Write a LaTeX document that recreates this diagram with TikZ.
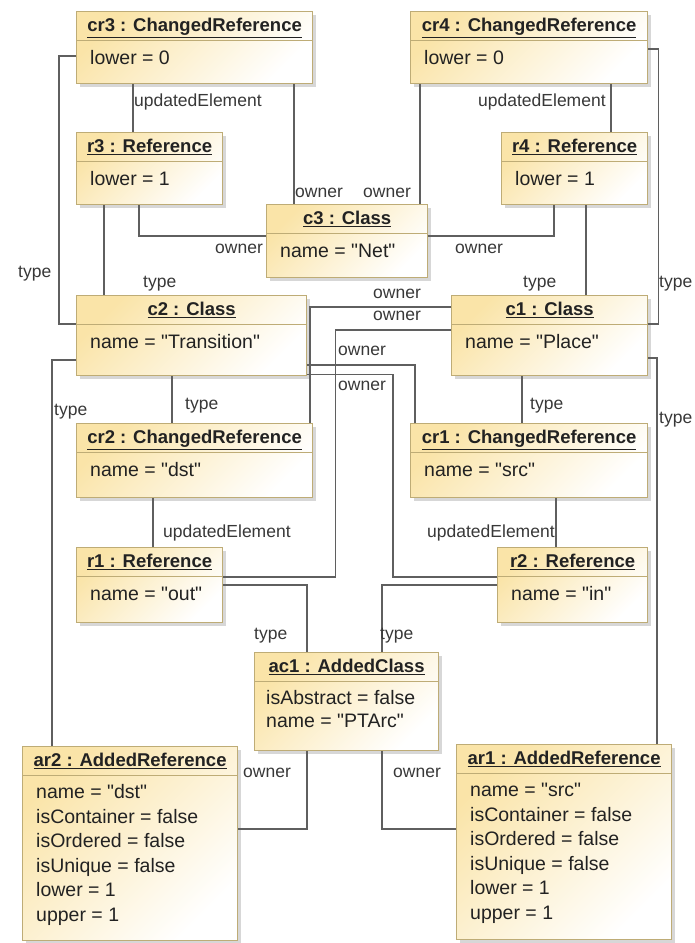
\documentclass[tikz,border=0pt]{standalone}
\usepackage{fontspec}
\setmainfont{Liberation Sans}[Ligatures=TeXOff]
\usetikzlibrary{shadows}

\newlength{\du}
\setlength{\du}{1pt}

\definecolor{objfill}{RGB}{250,228,168}
\definecolor{objborder}{RGB}{190,172,118}
\definecolor{linkcolor}{RGB}{95,95,95}
\definecolor{txtcolor}{RGB}{34,34,34}

\tikzset{
  objbox/.style={draw=objborder, line width=1.2\du, anchor=north west, inner sep=0pt,
    top color=objfill, bottom color=white, shading angle=45,
    drop shadow={shadow xshift=3\du, shadow yshift=-3\du, opacity=0.35, fill=black!45}},
  objline/.style={draw=objborder, line width=1\du},
  objtitle/.style={anchor=base, inner sep=0pt, text=txtcolor, font=\fontsize{18.5}{21}\selectfont\bfseries},
  objattr/.style={anchor=base west, inner sep=0pt, text=txtcolor, font=\fontsize{19.5}{22}\selectfont},
  link/.style={draw=linkcolor, line width=1.2\du},
  role/.style={anchor=base west, inner sep=0pt, text=txtcolor!90, font=\fontsize{17.5}{20}\selectfont}
}

\begin{document}
\begin{tikzpicture}
\useasboundingbox (0\du,0\du) rectangle (695\du,-943\du);
% objects
\node[objbox, minimum width=236\du, minimum height=72\du] (cr3) at (76\du,-11\du) {};
\draw[objline] ([yshift=-29.5\du]cr3.north west) -- ([yshift=-29.5\du]cr3.north east);
\node[objtitle] (cr3-t) at ([yshift=-20.5\du]cr3.north) {\underline{cr3 : ChangedReference}};
\node[objattr] (cr3-a) at ([shift={(14\du,-53\du)}]cr3.north west) {lower = 0};

\node[objbox, minimum width=146\du, minimum height=72\du] (r3) at (76\du,-132\du) {};
\draw[objline] ([yshift=-29.5\du]r3.north west) -- ([yshift=-29.5\du]r3.north east);
\node[objtitle] (r3-t) at ([yshift=-20.5\du]r3.north) {\underline{r3 : Reference}};
\node[objattr] (r3-a) at ([shift={(14\du,-53\du)}]r3.north west) {lower = 1};

\node[objbox, minimum width=161\du, minimum height=73\du] (c3) at (266\du,-204\du) {};
\draw[objline] ([yshift=-29.5\du]c3.north west) -- ([yshift=-29.5\du]c3.north east);
\node[objtitle] (c3-t) at ([yshift=-20.5\du]c3.north) {\underline{c3 : Class}};
\node[objattr] (c3-a) at ([shift={(14\du,-53\du)}]c3.north west) {name = "Net"};

\node[objbox, minimum width=237\du, minimum height=72\du] (cr4) at (410\du,-11\du) {};
\draw[objline] ([yshift=-29.5\du]cr4.north west) -- ([yshift=-29.5\du]cr4.north east);
\node[objtitle] (cr4-t) at ([yshift=-20.5\du]cr4.north) {\underline{cr4 : ChangedReference}};
\node[objattr] (cr4-a) at ([shift={(14\du,-53\du)}]cr4.north west) {lower = 0};

\node[objbox, minimum width=146\du, minimum height=72\du] (r4) at (501\du,-132\du) {};
\draw[objline] ([yshift=-29.5\du]r4.north west) -- ([yshift=-29.5\du]r4.north east);
\node[objtitle] (r4-t) at ([yshift=-20.5\du]r4.north) {\underline{r4 : Reference}};
\node[objattr] (r4-a) at ([shift={(14\du,-53\du)}]r4.north west) {lower = 1};

\node[objbox, minimum width=230\du, minimum height=80\du] (c2) at (76\du,-295\du) {};
\draw[objline] ([yshift=-29.5\du]c2.north west) -- ([yshift=-29.5\du]c2.north east);
\node[objtitle] (c2-t) at ([yshift=-20.5\du]c2.north) {\underline{c2 : Class}};
\node[objattr] (c2-a) at ([shift={(14\du,-53\du)}]c2.north west) {name = "Transition"};

\node[objbox, minimum width=196\du, minimum height=80\du] (c1) at (451\du,-295\du) {};
\draw[objline] ([yshift=-29.5\du]c1.north west) -- ([yshift=-29.5\du]c1.north east);
\node[objtitle] (c1-t) at ([yshift=-20.5\du]c1.north) {\underline{c1 : Class}};
\node[objattr] (c1-a) at ([shift={(14\du,-53\du)}]c1.north west) {name = "Place"};

\node[objbox, minimum width=236\du, minimum height=74\du] (cr2) at (76\du,-423\du) {};
\draw[objline] ([yshift=-29.5\du]cr2.north west) -- ([yshift=-29.5\du]cr2.north east);
\node[objtitle] (cr2-t) at ([yshift=-20.5\du]cr2.north) {\underline{cr2 : ChangedReference}};
\node[objattr] (cr2-a) at ([shift={(14\du,-53\du)}]cr2.north west) {name = "dst"};

\node[objbox, minimum width=237\du, minimum height=74\du] (cr1) at (410\du,-423\du) {};
\draw[objline] ([yshift=-29.5\du]cr1.north west) -- ([yshift=-29.5\du]cr1.north east);
\node[objtitle] (cr1-t) at ([yshift=-20.5\du]cr1.north) {\underline{cr1 : ChangedReference}};
\node[objattr] (cr1-a) at ([shift={(14\du,-53\du)}]cr1.north west) {name = "src"};

\node[objbox, minimum width=146\du, minimum height=75\du] (r1) at (76\du,-547\du) {};
\draw[objline] ([yshift=-29.5\du]r1.north west) -- ([yshift=-29.5\du]r1.north east);
\node[objtitle] (r1-t) at ([yshift=-20.5\du]r1.north) {\underline{r1 : Reference}};
\node[objattr] (r1-a) at ([shift={(14\du,-53\du)}]r1.north west) {name = "out"};

\node[objbox, minimum width=150\du, minimum height=75\du] (r2) at (497\du,-547\du) {};
\draw[objline] ([yshift=-29.5\du]r2.north west) -- ([yshift=-29.5\du]r2.north east);
\node[objtitle] (r2-t) at ([yshift=-20.5\du]r2.north) {\underline{r2 : Reference}};
\node[objattr] (r2-a) at ([shift={(14\du,-53\du)}]r2.north west) {name = "in"};

\node[objbox, minimum width=184\du, minimum height=98\du] (ac1) at (254\du,-652\du) {};
\draw[objline] ([yshift=-29.5\du]ac1.north west) -- ([yshift=-29.5\du]ac1.north east);
\node[objtitle] (ac1-t) at ([yshift=-20.5\du]ac1.north) {\underline{ac1 : AddedClass}};
\node[objattr] (ac1-a1) at ([shift={(12\du,-52.5\du)}]ac1.north west) {isAbstract = false};
\node[objattr] (ac1-a2) at ([shift={(12\du,-75.5\du)}]ac1.north west) {name = "PTArc"};

\node[objbox, minimum width=215\du, minimum height=194\du] (ar2) at (22\du,-746\du) {};
\draw[objline] ([yshift=-29.5\du]ar2.north west) -- ([yshift=-29.5\du]ar2.north east);
\node[objtitle] (ar2-t) at ([yshift=-20.5\du]ar2.north) {\underline{ar2 : AddedReference}};
\node[objattr] (ar2-a1) at ([shift={(14\du,-52.5\du)}]ar2.north west) {name = "dst"};
\node[objattr] (ar2-a2) at ([shift={(14\du,-77\du)}]ar2.north west) {isContainer = false};
\node[objattr] (ar2-a3) at ([shift={(14\du,-101.5\du)}]ar2.north west) {isOrdered = false};
\node[objattr] (ar2-a4) at ([shift={(14\du,-126\du)}]ar2.north west) {isUnique = false};
\node[objattr] (ar2-a5) at ([shift={(14\du,-150.5\du)}]ar2.north west) {lower = 1};
\node[objattr] (ar2-a6) at ([shift={(14\du,-175\du)}]ar2.north west) {upper = 1};

\node[objbox, minimum width=215\du, minimum height=195\du] (ar1) at (456\du,-744\du) {};
\draw[objline] ([yshift=-29.5\du]ar1.north west) -- ([yshift=-29.5\du]ar1.north east);
\node[objtitle] (ar1-t) at ([yshift=-20.5\du]ar1.north) {\underline{ar1 : AddedReference}};
\node[objattr] (ar1-a1) at ([shift={(14\du,-52.5\du)}]ar1.north west) {name = "src"};
\node[objattr] (ar1-a2) at ([shift={(14\du,-77\du)}]ar1.north west) {isContainer = false};
\node[objattr] (ar1-a3) at ([shift={(14\du,-101.5\du)}]ar1.north west) {isOrdered = false};
\node[objattr] (ar1-a4) at ([shift={(14\du,-126\du)}]ar1.north west) {isUnique = false};
\node[objattr] (ar1-a5) at ([shift={(14\du,-150.5\du)}]ar1.north west) {lower = 1};
\node[objattr] (ar1-a6) at ([shift={(14\du,-175\du)}]ar1.north west) {upper = 1};

% links, top part
\draw[link] ([xshift=57\du]cr3.south west) -- ([xshift=57\du]r3.north west);
\draw[link] ([xshift=218\du]cr3.south west) -- ([xshift=28\du]c3.north west);
\draw[link] ([xshift=63\du]r3.south west) |- ([yshift=-32\du]c3.north west);
\draw[link] ([yshift=-45\du]cr3.north west) -- ++(-17\du,0) |- ([yshift=-29\du]c2.north west);
\draw[link] ([xshift=28\du]r3.south west) -- ([xshift=28\du]c2.north west);
\draw[link] ([xshift=10\du]cr4.south west) -- ([xshift=154\du]c3.north west);
\draw[link] ([xshift=201\du]cr4.south west) -- ([xshift=110\du]r4.north west);
\draw[link] ([xshift=53\du]r4.south west) |- ([yshift=-32\du]c3.north east);
\draw[link] ([xshift=85\du]r4.south west) -- ([xshift=135\du]c1.north west);
\draw[link] ([yshift=-38\du]cr4.north east) -- ++(10\du,0) |- ([yshift=-29\du]c1.north east);

% links, middle part
\draw[link] ([xshift=71\du]c1.south west) -- ([xshift=112\du]cr1.north west);
\draw[link] ([yshift=-63\du]c1.north east) -| ([xshift=201\du]ar1.north west);
\draw[link] ([xshift=96\du]c2.south west) -- ([xshift=96\du]cr2.north west);
\draw[link] ([yshift=-65\du]c2.north west) -| ([xshift=30\du]ar2.north west);
\draw[link] ([xshift=234\du]cr2.north west) |- ([yshift=-12\du]c1.north west);
\draw[link] ([yshift=-30\du]r1.north east) -- ++(112\du,0) |- ([yshift=-35\du]c1.north west);
\draw[link] ([xshift=5\du]cr1.north west) |- ([yshift=-70\du]c2.north east);
\draw[link] ([yshift=-30\du]r2.north west) -- ++(-104\du,0) |- ([yshift=1.5\du]c2.south east);
\draw[link] ([xshift=77\du]cr2.south west) -- ([xshift=77\du]r1.north west);
\draw[link] ([xshift=146\du]cr1.south west) -- ([xshift=59\du]r2.north west);

% links, bottom part
\draw[link] ([yshift=-38\du]r1.north east) -| ([xshift=53\du]ac1.north west);
\draw[link] ([yshift=-38\du]r2.north west) -| ([xshift=128\du]ac1.north west);
\draw[link] ([xshift=53\du]ac1.south west) |- ([yshift=-83\du]ar2.north east);
\draw[link] ([xshift=128\du]ac1.south west) |- ([yshift=-85\du]ar1.north west);

% role names
\node[role] (l-ue3) at (134\du,-106\du) {updatedElement};
\node[role] (l-own1) at (295\du,-197\du) {owner};
\node[role] (l-own2) at (215\du,-253\du) {owner};
\node[role] (l-typ1) at (18\du,-277\du) {type};
\node[role] (l-typ2) at (143\du,-287\du) {type};
\node[role] (l-own3) at (363\du,-197\du) {owner};
\node[role] (l-ue4) at (478\du,-106\du) {updatedElement};
\node[role] (l-own4) at (455\du,-253\du) {owner};
\node[role] (l-typ3) at (523\du,-287\du) {type};
\node[role] (l-typ4) at (659\du,-287\du) {type};
\node[role] (l-own5) at (373\du,-298\du) {owner};
\node[role] (l-own6) at (373\du,-320\du) {owner};
\node[role] (l-own7) at (338\du,-355\du) {owner};
\node[role] (l-own8) at (338\du,-390\du) {owner};
\node[role] (l-typ5) at (185\du,-409\du) {type};
\node[role] (l-typ6) at (54\du,-415\du) {type};
\node[role] (l-typ7) at (530\du,-409\du) {type};
\node[role] (l-typ8) at (659\du,-423\du) {type};
\node[role] (l-ue2) at (163\du,-537\du) {updatedElement};
\node[role] (l-ue1) at (427\du,-537\du) {updatedElement};
\node[role] (l-typ9) at (254\du,-639\du) {type};
\node[role] (l-typ10) at (380\du,-639\du) {type};
\node[role] (l-own9) at (243\du,-777\du) {owner};
\node[role] (l-own10) at (393\du,-777\du) {owner};
\end{tikzpicture}
\end{document}
